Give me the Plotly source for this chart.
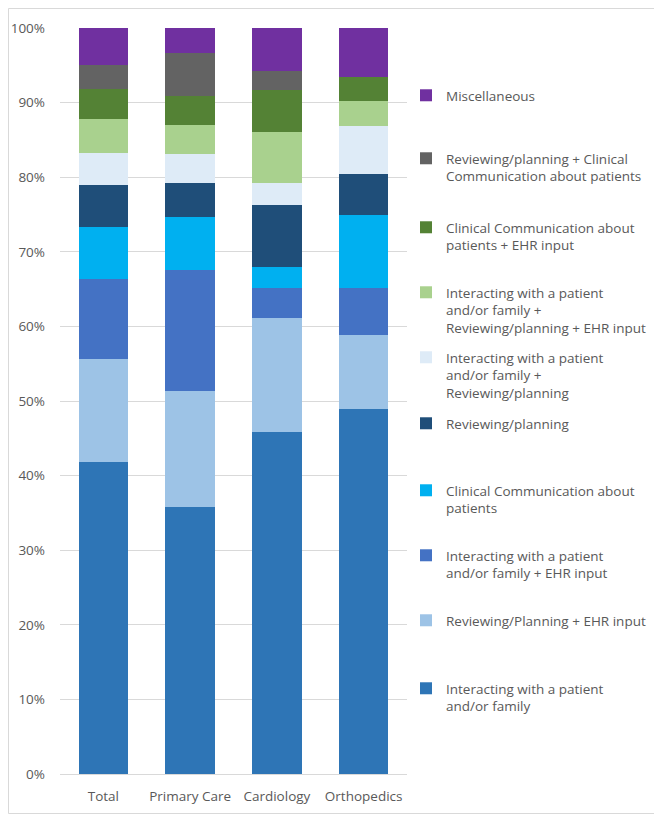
import plotly.graph_objects as go

# categories and stacked shares (%), bottom segment first
departments = ["Total", "Primary Care", "Cardiology", "Orthopedics"]

series_names = [
    "Interacting with a patient<br>and/or family",
    "Reviewing/Planning + EHR input",
    "Interacting with a patient<br>and/or family + EHR input",
    "Clinical Communication about<br>patients",
    "Reviewing/planning",
    "Interacting with a patient<br>and/or family +<br>Reviewing/planning",
    "Interacting with a patient<br>and/or family +<br>Reviewing/planning + EHR input",
    "Clinical Communication about<br>patients + EHR input",
    "Reviewing/planning + Clinical<br>Communication about patients",
    "Miscellaneous",
]

interacting = [41.8, 35.8, 45.8, 48.9]
review_ehr = [13.8, 15.5, 15.3, 9.9]
interacting_ehr = [10.7, 16.3, 4.1, 6.3]
clinical_comm = [7.0, 7.1, 2.8, 9.9]
reviewing = [5.7, 4.5, 8.3, 5.4]
interacting_review = [4.3, 3.9, 2.9, 6.5]
interacting_review_ehr = [4.5, 3.9, 6.9, 3.3]
clinical_ehr = [4.0, 3.9, 5.6, 3.2]
review_clinical = [3.3, 5.8, 2.6, 0.0]
misc = [4.9, 3.3, 5.7, 6.6]

series_values = [interacting, review_ehr, interacting_ehr, clinical_comm, reviewing,
                 interacting_review, interacting_review_ehr, clinical_ehr,
                 review_clinical, misc]

colors = ["#2E75B6", "#9DC3E6", "#4472C4", "#00B0F0", "#1F4E79",
          "#DEEBF7", "#A9D18E", "#548235", "#636363", "#7030A0"]

# pixel row (page coords) of the first text line of each legend entry, bottom series first
legend_rows = [690, 622, 557, 492, 425, 359, 294, 229, 160, 97]

TEXT = "#595959"
FONT = "Open Sans, Lato, sans-serif"
FS = 13.5

# the page body has an 8px margin, so the figure is drawn 8px smaller/shifted
OFF = 8
W, H = 662 - OFF, 815 - OFF
# plot area on the page: x 60..407, y 28..774
L, T = 60 - OFF, 28 - OFF
R, B = W - (407 - OFF), H - (774 - OFF)
pw, ph = W - L - R, H - T - B

fig = go.Figure()
legends = {}
for i, (name, vals, col) in enumerate(zip(series_names, series_values, colors)):
    key = "legend" if i == 0 else f"legend{i + 1}"
    fig.add_trace(go.Bar(x=departments, y=vals, name=name,
                         legend=key,
                         marker=dict(color=col, line=dict(width=0))))
    # each entry gets its own legend so it can sit at its own row
    legends[key] = dict(
        x=(406 - OFF - L) / pw, xanchor="left",
        y=1 - (legend_rows[i] - 17 - OFF - T) / ph, yanchor="top",
        valign="top",
        font=dict(family=FONT, size=FS, color=TEXT),
        itemwidth=30,
        bgcolor="rgba(0,0,0,0)",
    )

fig.update_layout(
    barmode="stack",
    bargap=0.43,
    width=W, height=H,
    margin=dict(l=L, r=R, t=T, b=B, autoexpand=False),
    paper_bgcolor="white",
    plot_bgcolor="white",
    font=dict(family=FONT, size=FS, color=TEXT),
    showlegend=True,
    xaxis=dict(showgrid=False, showline=False, ticks="", ticklabelstandoff=12,
               tickfont=dict(size=FS, color=TEXT)),
    yaxis=dict(range=[0, 100], dtick=10, ticksuffix="%",
               showgrid=True, gridcolor="#D9D9D9", gridwidth=1,
               zeroline=True, zerolinecolor="#D9D9D9", zerolinewidth=1,
               showline=False, ticks="", ticklabelstandoff=14,
               tickfont=dict(size=FS, color=TEXT)),
    **legends,
)

# light border around the whole chart area
fig.add_shape(type="rect", xref="paper", yref="paper",
              x0=(0.5 - L) / pw, x1=(W - 1.5 - L) / pw,
              y0=1 - (H - 1.5 - T) / ph, y1=1 - (0.5 - T) / ph,
              line=dict(color="#D9D9D9", width=1), layer="below")

fig.write_html("out.html")
